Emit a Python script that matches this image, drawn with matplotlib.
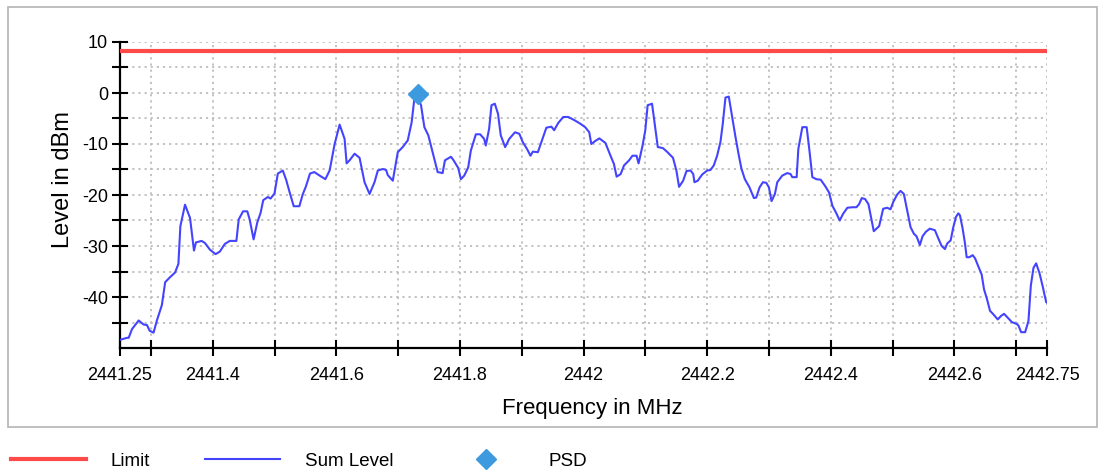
import matplotlib
matplotlib.use("Agg")
import matplotlib.pyplot as plt
from matplotlib.patches import Rectangle
from matplotlib.lines import Line2D

# Sum Level trace (MHz, dBm)
freq = [
    2441.2500, 2441.2614, 2441.2641, 2441.2694, 2441.2802, 2441.2882, 2441.2936, 2441.2979,
    2441.3043, 2441.3097, 2441.3177, 2441.3231, 2441.3311, 2441.3391, 2441.3445, 2441.3477,
    2441.3552, 2441.3633, 2441.3697, 2441.3729, 2441.3820, 2441.3874, 2441.3954, 2441.4046,
    2441.4115, 2441.4196, 2441.4276, 2441.4383, 2441.4421, 2441.4491, 2441.4560, 2441.4598,
    2441.4662, 2441.4721, 2441.4775, 2441.4818, 2441.4893, 2441.4936, 2441.5000, 2441.5054,
    2441.5134, 2441.5188, 2441.5241, 2441.5311, 2441.5402, 2441.5456, 2441.5509, 2441.5574,
    2441.5643, 2441.5731, 2441.5823, 2441.5892, 2441.5973, 2441.6054, 2441.6134, 2441.6167,
    2441.6215, 2441.6296, 2441.6376, 2441.6457, 2441.6538, 2441.6618, 2441.6672, 2441.6753,
    2441.6806, 2441.6833, 2441.6914, 2441.6995, 2441.7075, 2441.7156, 2441.7220, 2441.7263,
    2441.7317, 2441.7371, 2441.7425, 2441.7489, 2441.7559, 2441.7640, 2441.7720, 2441.7758,
    2441.7855, 2441.7898, 2441.7973, 2441.8016, 2441.8070, 2441.8134, 2441.8177, 2441.8258,
    2441.8328, 2441.8392, 2441.8419, 2441.8473, 2441.8511, 2441.8565, 2441.8617, 2441.8661,
    2441.8732, 2441.8798, 2441.8891, 2441.8962, 2441.9016, 2441.9087, 2441.9142, 2441.9180,
    2441.9262, 2441.9328, 2441.9399, 2441.9481, 2441.9525, 2441.9590, 2441.9672, 2441.9754,
    2441.9863, 2441.9945, 2442.0027, 2442.0093, 2442.0126, 2442.0191, 2442.0257, 2442.0355,
    2442.0437, 2442.0492, 2442.0536, 2442.0601, 2442.0656, 2442.0738, 2442.0792, 2442.0858,
    2442.0891, 2442.0956, 2442.1000, 2442.1038, 2442.1109, 2442.1202, 2442.1284, 2442.1350,
    2442.1448, 2442.1503, 2442.1546, 2442.1612, 2442.1667, 2442.1732, 2442.1776, 2442.1795,
    2442.1849, 2442.1919, 2442.2000, 2442.2054, 2442.2108, 2442.2162, 2442.2216, 2442.2254,
    2442.2297, 2442.2351, 2442.2405, 2442.2459, 2442.2514, 2442.2557, 2442.2611, 2442.2686,
    2442.2757, 2442.2795, 2442.2849, 2442.2903, 2442.2957, 2442.3000, 2442.3043, 2442.3097,
    2442.3135, 2442.3216, 2442.3297, 2442.3351, 2442.3378, 2442.3449, 2442.3476, 2442.3541,
    2442.3611, 2442.3659, 2442.3703, 2442.3768, 2442.3838, 2442.3908, 2442.3973, 2442.4027,
    2442.4092, 2442.4146, 2442.4200, 2442.4270, 2442.4351, 2442.4416, 2442.4459, 2442.4503,
    2442.4557, 2442.4611, 2442.4649, 2442.4697, 2442.4741, 2442.4784, 2442.4849, 2442.4914,
    2442.4968, 2442.5011, 2442.5076, 2442.5130, 2442.5184, 2442.5238, 2442.5292, 2442.5346,
    2442.5389, 2442.5443, 2442.5486, 2442.5541, 2442.5605, 2442.5686, 2442.5741, 2442.5795,
    2442.5849, 2442.5886, 2442.5941, 2442.5984, 2442.6027, 2442.6065, 2442.6092, 2442.6135,
    2442.6173, 2442.6200, 2442.6243, 2442.6297, 2442.6335, 2442.6389, 2442.6443, 2442.6481,
    2442.6524, 2442.6578, 2442.6632, 2442.6703, 2442.6757, 2442.6805, 2442.6859, 2442.6930,
    2442.7011, 2442.7038, 2442.7081, 2442.7146, 2442.7200, 2442.7238, 2442.7281, 2442.7324,
    2442.7378, 2442.7432, 2442.7486, 2442.7500,
]
level = [
    -48.4, -48.0, -48.0, -46.3, -44.6, -45.4, -45.5, -46.6,
    -47.0, -44.6, -41.6, -37.1, -36.1, -35.2, -33.5, -26.1,
    -21.9, -24.5, -30.9, -29.3, -29.0, -29.4, -30.7, -31.6,
    -31.1, -29.6, -29.0, -29.0, -24.8, -23.2, -23.2, -24.8,
    -28.7, -25.4, -23.5, -21.0, -20.4, -20.7, -19.7, -15.8,
    -15.2, -17.0, -19.3, -22.2, -22.2, -19.9, -18.3, -15.8,
    -15.5, -16.2, -16.9, -15.2, -10.0, -6.2, -9.0, -13.8,
    -13.2, -11.9, -12.7, -17.5, -19.8, -17.5, -15.2, -14.9,
    -15.1, -16.1, -17.2, -11.6, -10.6, -9.3, -5.7, -1.1,
    -0.5, -2.4, -6.7, -8.3, -11.6, -15.5, -15.7, -13.2,
    -12.5, -13.2, -14.7, -16.9, -16.2, -14.6, -11.3, -8.1,
    -8.1, -9.0, -10.3, -7.0, -2.4, -2.1, -4.1, -8.3,
    -10.6, -9.0, -7.7, -8.0, -9.6, -11.0, -12.3, -11.5,
    -11.6, -9.3, -6.8, -6.6, -7.3, -5.9, -4.7, -4.7,
    -5.4, -6.0, -6.7, -7.7, -10.0, -9.4, -8.9, -9.8,
    -12.3, -13.9, -16.4, -15.9, -14.2, -13.2, -12.3, -12.3,
    -13.8, -10.3, -7.3, -2.4, -2.1, -10.6, -10.8, -11.5,
    -12.7, -15.2, -18.4, -17.2, -15.3, -15.2, -15.9, -17.5,
    -17.2, -16.0, -15.2, -15.1, -14.2, -12.3, -9.6, -6.0,
    -0.9, -0.7, -4.7, -8.6, -12.3, -14.9, -16.9, -18.5,
    -20.6, -20.5, -18.5, -17.5, -17.6, -18.5, -21.2, -19.8,
    -17.5, -16.2, -15.7, -15.9, -16.5, -16.5, -11.0, -6.7,
    -6.7, -11.6, -16.5, -16.9, -17.0, -18.2, -19.5, -22.1,
    -23.6, -25.0, -23.7, -22.5, -22.4, -22.4, -21.8, -20.6,
    -20.8, -21.8, -24.1, -27.1, -26.6, -26.1, -22.7, -22.5,
    -22.8, -21.4, -19.9, -19.2, -19.8, -23.0, -26.3, -27.6,
    -28.1, -29.8, -28.1, -27.2, -26.6, -26.9, -28.5, -30.0,
    -30.6, -29.5, -28.9, -26.3, -24.3, -23.6, -24.0, -26.6,
    -29.5, -32.2, -32.2, -31.8, -32.4, -34.0, -35.6, -38.5,
    -40.2, -42.7, -43.4, -44.4, -43.7, -43.3, -44.0, -44.9,
    -45.3, -45.6, -46.9, -46.9, -44.7, -37.8, -34.3, -33.4,
    -35.3, -38.0, -41.0, -41.1,
]

limit_level = 8.3
psd_freq = [2441.732]
psd_level = [-0.2]

x_ticks = [2441.25, 2441.3, 2441.4, 2441.5, 2441.6, 2441.7, 2441.8, 2441.9, 2442.0,
           2442.1, 2442.2, 2442.3, 2442.4, 2442.5, 2442.6, 2442.7, 2442.75]
x_labels = ["2441.25", "", "2441.4", "", "2441.6", "", "2441.8", "", "2442",
            "", "2442.2", "", "2442.4", "", "2442.6", "", "2442.75"]
y_ticks = [-40, -30, -20, -10, 0, 10]
y_minor = [-45, -35, -25, -15, -5, 5]

plt.rcParams['font.family'] = ['Liberation Sans', 'DejaVu Sans']
plt.rcParams['axes.unicode_minus'] = False

W, H = 1102, 473
fig = plt.figure(figsize=(W / 100, H / 100), dpi=100)

# grey frame round the chart area
fig.add_artist(Rectangle((8 / W, 1 - 427 / H), 1089 / W, 420 / H, transform=fig.transFigure,
                         fill=False, edgecolor='#b4b4b4', linewidth=1.2))

ax = fig.add_axes([120 / W, 1 - 348 / H, 927 / W, 306 / H])

ax.plot([freq[0], freq[-1]], [limit_level, limit_level], color='#ff4a4a', linewidth=3, zorder=3)
ax.plot(freq, level, color='#4444ff', linewidth=1.5, zorder=3)
ax.plot(psd_freq, psd_level, linestyle='none', marker='D', markersize=10.5,
        color='#3e9ade', zorder=4)

ax.set_xlim(2441.25, 2442.75)
ax.set_ylim(-50, 10)
ax.set_xticks(x_ticks)
ax.set_xticklabels(x_labels)
ax.set_yticks(y_ticks)
ax.set_yticks(y_minor, minor=True)

ax.grid(True, which='both', color='#bdbdbd', linestyle=(0, (1.2, 2.2)), linewidth=1.3)
ax.set_axisbelow(True)

for side in ['top', 'right']:
    ax.spines[side].set_visible(False)
for side in ['left', 'bottom']:
    ax.spines[side].set_linewidth(1.6)

ax.tick_params(axis='both', which='both', direction='inout', length=11, width=1.5,
               labelsize=13)
ax.tick_params(axis='x', pad=8)
ax.tick_params(axis='y', pad=3)

ax.set_xlabel("Frequency in MHz", fontsize=16)
ax.set_ylabel("Level in dBm", fontsize=17)
ax.xaxis.set_label_coords(0.51, -0.165)
ax.yaxis.set_label_coords(-0.05, 0.55)

# legend row under the frame
handles = [
    Line2D([], [], color='#ff4a4a', linewidth=3),
    Line2D([], [], color='#4444ff', linewidth=1.5),
    Line2D([], [], color='#3e9ade', linestyle='none', marker='D', markersize=10.5),
]
fig.legend(handles, ["Limit", "Sum Level", "PSD"], ncol=3, loc='center left',
           bbox_to_anchor=(-6 / W, 1 - 461 / H), frameon=False, fontsize=13.5,
           handlelength=4.0, handletextpad=1.33, columnspacing=2.93)

fig.savefig("out.png", dpi=100)
